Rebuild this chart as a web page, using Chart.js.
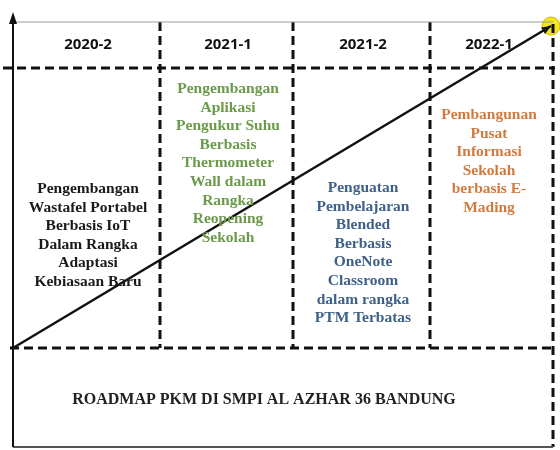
<!DOCTYPE html>
<html>
<head>
<meta charset="utf-8">
<script src="https://cdn.jsdelivr.net/npm/chart.js@4.4.0/dist/chart.umd.min.js"></script>
<style>
  body { margin: 0; background: #fff; }
  #wrap { width: 560px; height: 450px; }
</style>
</head>
<body>
<div id="wrap"><canvas id="roadmap" width="560" height="450"></canvas></div>
<script>
// Roadmap data
const periods = ["2020-2", "2021-1", "2021-2", "2022-1"];
const periodCenters = [88, 228, 363, 489];
const dividerX = [160, 293, 430];

const programs = [
  ["Pengembangan", "Wastafel Portabel", "Berbasis IoT", "Dalam Rangka", "Adaptasi", "Kebiasaan Baru"],
  ["Pengembangan", "Aplikasi", "Pengukur Suhu", "Berbasis", "Thermometer", "Wall dalam", "Rangka", "Reopening", "Sekolah"],
  ["Penguatan", "Pembelajaran", "Blended", "Berbasis", "OneNote", "Classroom", "dalam rangka", "PTM Terbatas"],
  ["Pembangunan", "Pusat", "Informasi", "Sekolah", "berbasis E-", "Mading"]
];
const programTop = [189, 89, 188, 115];
const programColors = ["#1a1a1a", "#6b9a4b", "#3f6189", "#d27a3e"];

const title = "ROADMAP PKM DI SMPI AL AZHAR 36 BANDUNG";

// progress line: start and end of the trend arrow
const trendX = [13, 551];
const trendY = [348, 26];

const toPts = (xs, ys) => xs.map((x, i) => ({ x: x, y: ys[i] }));

// dashed frame lines
const dashed = (xs, ys) => ({
  data: toPts(xs, ys),
  showLine: true,
  borderColor: "#111",
  borderWidth: 3,
  borderDash: [9, 5],
  pointRadius: 0
});
const solid = (xs, ys, color, w) => ({
  data: toPts(xs, ys),
  showLine: true,
  borderColor: color,
  borderWidth: w,
  pointRadius: 0
});

const datasets = [
  solid([13, 553], [22, 22], "#9a9a9a", 1),
  solid([13, 13], [18, 447], "#111", 2),
  solid([13, 553], [447, 447], "#555", 2),
  dashed([3, 555], [68, 68]),
  dashed([10, 555], [348, 348]),
  dashed([553, 553], [24, 447])
];
dividerX.forEach((x) => datasets.push(dashed([x, x], [22, 348])));
datasets.push(solid(trendX, trendY, "#111", 2.5));
datasets.push({
  data: [{ x: trendX[1], y: trendY[1] }],
  pointRadius: 9,
  pointBackgroundColor: "#f3e61c",
  pointBorderColor: "#c9b800",
  pointBorderWidth: 1,
  clip: false
});

const textPlugin = {
  id: "roadmapText",
  afterDatasetsDraw(chart) {
    const { ctx, scales } = chart;
    const px = (v) => scales.x.getPixelForValue(v);
    const py = (v) => scales.y.getPixelForValue(v);
    ctx.save();

    // arrow heads
    ctx.fillStyle = "#111";
    ctx.beginPath();
    ctx.moveTo(px(13), py(12));
    ctx.lineTo(px(9), py(24));
    ctx.lineTo(px(17), py(24));
    ctx.closePath();
    ctx.fill();

    const ang = Math.atan2(py(trendY[1]) - py(trendY[0]), px(trendX[1]) - px(trendX[0]));
    const tx = px(trendX[1]), ty = py(trendY[1]);
    ctx.beginPath();
    ctx.moveTo(tx, ty);
    ctx.lineTo(tx - 10 * Math.cos(ang - 0.4), ty - 10 * Math.sin(ang - 0.4));
    ctx.lineTo(tx - 10 * Math.cos(ang + 0.4), ty - 10 * Math.sin(ang + 0.4));
    ctx.closePath();
    ctx.fill();

    ctx.textAlign = "center";
    ctx.textBaseline = "middle";

    // period headers
    ctx.font = "bold 15px 'Open Sans', sans-serif";
    ctx.fillStyle = "#111";
    periods.forEach((p, i) => ctx.fillText(p, px(periodCenters[i]), py(45)));

    // program descriptions
    ctx.font = "bold 15.5px 'Liberation Serif', serif";
    programs.forEach((lines, i) => {
      ctx.fillStyle = programColors[i];
      lines.forEach((ln, j) => {
        ctx.fillText(ln, px(periodCenters[i]), py(programTop[i] + j * 18.6));
      });
    });

    // bottom title
    ctx.font = "bold 16px 'Liberation Serif', serif";
    ctx.fillStyle = "#222";
    ctx.fillText(title, px(264), py(400));
    ctx.restore();
  }
};

new Chart(document.getElementById("roadmap"), {
  type: "scatter",
  data: { datasets: datasets },
  options: {
    responsive: false,
    animation: false,
    layout: { padding: 0, autoPadding: false },
    plugins: { legend: { display: false }, tooltip: { enabled: false } },
    scales: {
      x: { type: "linear", min: 0, max: 560, display: false },
      y: { type: "linear", min: 0, max: 450, reverse: true, display: false }
    }
  },
  plugins: [textPlugin]
});
</script>
</body>
</html>
